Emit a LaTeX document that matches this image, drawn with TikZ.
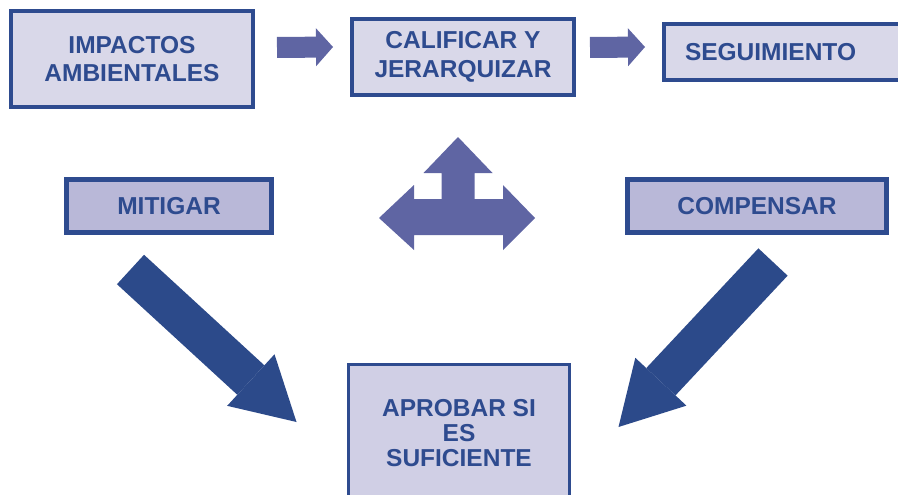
\documentclass[tikz,border=0pt]{standalone}
\usepackage{fontspec}
\setmainfont{Liberation Sans}
\usetikzlibrary{arrows.meta, positioning}
\definecolor{boxline}{HTML}{2E4B8F}
\definecolor{boxfill}{HTML}{D9D8E9}
\definecolor{boxfilldark}{HTML}{B9B8D8}
\definecolor{boxfillmid}{HTML}{D0CFE5}
\definecolor{arrowlight}{HTML}{5F65A3}
\definecolor{arrowdark}{HTML}{2C4A8A}

\begin{document}
\begin{tikzpicture}[x=1pt, y=-1pt]
    \tikzstyle{box}=[draw=boxline, fill=boxfill, line width=4pt, text=boxline, font=\bfseries\fontsize{24.5}{28.5}\selectfont, align=center, inner sep=0pt]
    \tikzstyle{option box}=[box, fill=boxfilldark, line width=5pt]
    \tikzstyle{light flow}=[draw=arrowlight, line width=21pt, -{Triangle[length=17pt, width=38pt, line width=0pt]}]
    \tikzstyle{dark flow}=[draw=arrowdark, line width=40pt, -{Triangle[length=62pt, width=70pt, line width=0pt]}]

    \useasboundingbox (0,0) rectangle (898,495);

    % top row
    \node[box, minimum width=242pt, minimum height=96pt] (imp) at (132,59) {IMPACTOS\\AMBIENTALES};
    \node[box, minimum width=222pt, minimum height=76pt] (cal) at (463,57) {CALIFICAR Y\\JERARQUIZAR};
    \node[box, anchor=west, minimum height=56pt, text width=220pt, inner xsep=21pt, align=left] (seg) at (662,52) {SEGUIMIENTO};

    % options
    \node[option box, minimum width=205pt, minimum height=53pt] (mit) at (169,206) {MITIGAR};
    \node[option box, minimum width=259pt, minimum height=53pt] (com) at (757,206) {COMPENSAR};

    % result
    \node[box, fill=boxfillmid, line width=3pt, font=\bfseries\fontsize{24.5}{25}\selectfont, minimum width=221pt, minimum height=138pt] (apr) at (459,433.5) {APROBAR SI\\ES\\SUFICIENTE};

    \draw[light flow] ([xshift=22pt,yshift=11.5pt]imp.east) -- ([xshift=-17pt,yshift=10pt]cal.west);
    \draw[light flow] ([xshift=14pt,yshift=9.5pt]cal.east) -- ([xshift=-17pt,yshift=5pt]seg.west);

    \draw[dark flow] ([xshift=-38.5pt,yshift=-34.5pt]mit.south) -- ([xshift=-50.5pt,yshift=11.5pt]apr.west);
    \draw[dark flow] ([xshift=16pt,yshift=-27pt]com.south) -- ([xshift=47.5pt,yshift=6.5pt]apr.east);

    % three way arrow
    \fill[arrowlight] (458,137) -- (492.5,173) -- (474.5,173) -- (474.5,199) -- (503,199) -- (503,185)
        -- (535,218) -- (503,250) -- (503,235) -- (414,235) -- (414,250) -- (379,218) -- (414,185)
        -- (414,199) -- (441.5,199) -- (441.5,173) -- (423.5,173) -- cycle;
\end{tikzpicture}
\end{document}
